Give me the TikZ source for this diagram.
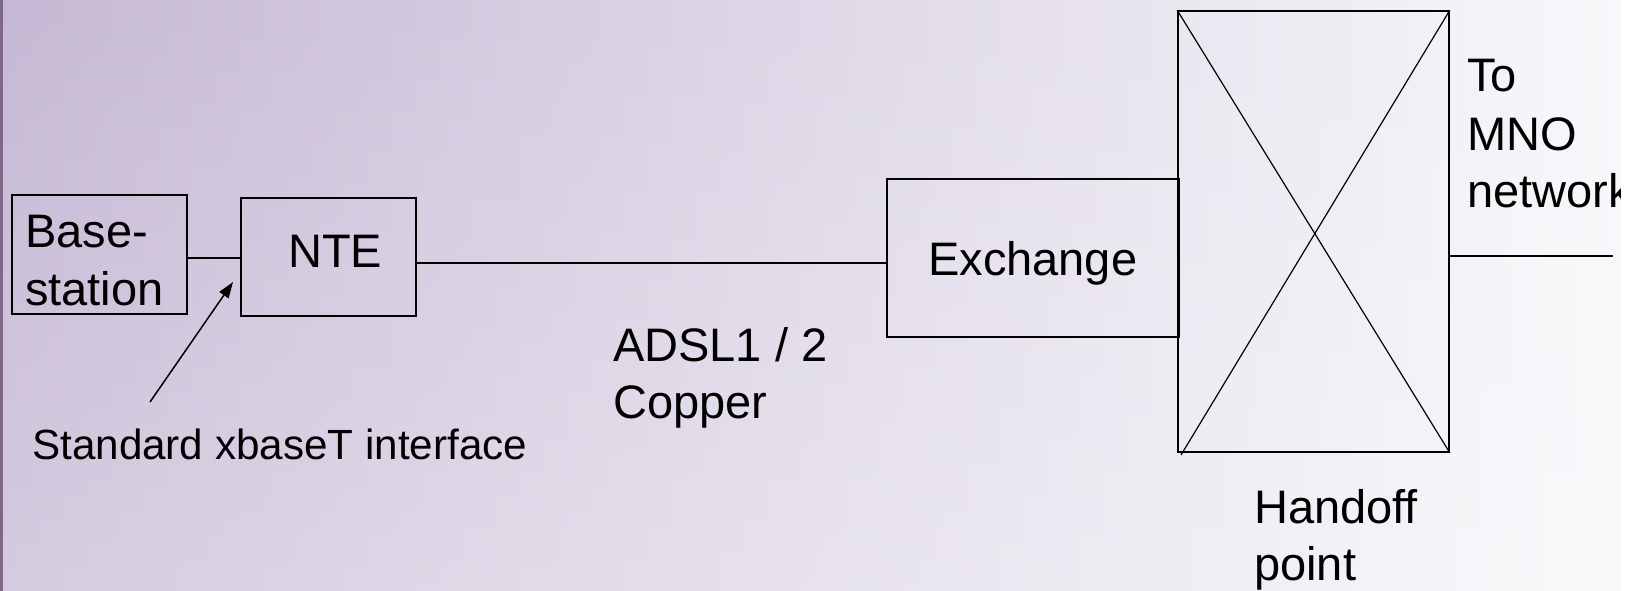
\documentclass[tikz,border=0pt]{standalone}
\usepackage{fontspec}
\setmainfont{Liberation Sans}
\usetikzlibrary{arrows.meta,fadings}
\definecolor{bgL}{RGB}{197,184,212}
\definecolor{bgM}{RGB}{214,204,225}
\definecolor{bgR}{RGB}{248,248,251}
\definecolor{edgeC}{RGB}{125,105,135}
\begin{document}
\begin{tikzpicture}[x=1pt,y=-1pt,
  boxnode/.style={draw=black, line width=1.6pt, inner sep=0pt, fill=none},
  lbl/.style={anchor=base west, inner sep=0pt, font=\fontsize{47}{57}\selectfont},
  smalllbl/.style={anchor=base west, inner sep=0pt, font=\fontsize{42.2}{50}\selectfont},
  wire/.style={line width=1.6pt},
  thinwire/.style={line width=1.2pt},
  pointer/.style={line width=1.5pt, -{Triangle[length=16pt, width=11pt]}}]
% background
\useasboundingbox (0,0) rectangle (1646,591);
\fill[left color=bgL, middle color=bgM, right color=bgR] (0,0) rectangle (1621,591);
\fill[white, fill opacity=0.28, path fading=north] (0,0) rectangle (1621,591);
\fill[edgeC] (0,0) rectangle (3,591);
% boxes
\node[boxnode, minimum width=175pt, minimum height=119pt] (bs) at (99.5,254.5) {};
\node[boxnode, minimum width=175pt, minimum height=118pt] (nte) at (328.5,257) {};
\node[boxnode, minimum width=292pt, minimum height=158pt] (exch) at (1033,258) {};
\node[boxnode, minimum width=271pt, minimum height=441pt] (hand) at (1313.5,231.5) {};
% texts
\node[lbl] (bs1) at (25,247) {Base-};
\node[lbl] (bs2) at (25,305) {station};
\node[lbl] (ntet) at (288,267) {NTE};
\node[lbl] (excht) at (928,275) {Exchange};
\node[lbl] (adsl1) at (613,361) {ADSL1 / 2};
\node[lbl] (adsl2) at (613,418) {Copper};
\node[smalllbl] (stdt) at (32,459) {Standard xbaseT interface};
\node[lbl] (to1) at (1467,92) {To};
\node[lbl] (to2) at (1467,150) {MNO};
\node[lbl] (to3) at (1467,207) {network};
\node[lbl] (ho1) at (1254,523) {Handoff};
\node[lbl] (ho2) at (1254,580) {point};
% connectors
\coordinate (y1) at (0,258);
\coordinate (y2) at (0,263);
\coordinate (mno) at (1613,256);
\coordinate (arrtail) at (150,402);
\coordinate (arrtip) at (233,282);
\coordinate (xend) at (1181,455);
\draw[wire] (bs.east |- y1) -- (nte.west |- y1);
\draw[wire] (nte.east |- y2) -- (exch.west |- y2);
\draw[wire] (hand.east |- mno) -- (mno);
\draw[thinwire] (hand.north west) -- (hand.south east);
\draw[thinwire] (hand.north east) -- (xend);
\draw[pointer] (arrtail) -- (arrtip);
% clipped right margin
\fill[white] (1621,0) rectangle (1646,591);
\end{tikzpicture}
\end{document}
